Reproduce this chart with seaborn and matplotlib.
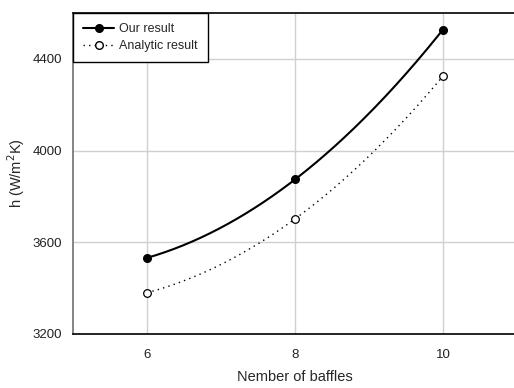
import numpy as np
import pandas as pd
import matplotlib
matplotlib.use("Agg")
import matplotlib.pyplot as plt
from matplotlib.lines import Line2D
import seaborn as sns

# Values
baffles = [6, 8, 10]
our_result = [3532, 3874, 4528]
analytic_result = [3380, 3702, 4325]

sns.set_style("white")
plt.rcParams['font.family'] = ['Liberation Sans', 'DejaVu Sans']

fig = plt.figure(figsize=(5.14, 3.88), dpi=100)
ax = fig.add_axes([73 / 514, 54 / 388, 444 / 514, 321 / 388])


# Smooth quadratic curve through the three points (like SigmaPlot's spline)
def smooth(x, y):
    coef = np.polyfit(x, y, 2)
    xs = np.linspace(min(x), max(x), 200)
    return pd.DataFrame({'x': xs, 'y': np.polyval(coef, xs)})


our_curve = smooth(baffles, our_result)
ana_curve = smooth(baffles, analytic_result)

ax.grid(True, color='#d0d0d0', linewidth=1)
ax.set_axisbelow(True)

sns.lineplot(data=our_curve, x='x', y='y', ax=ax, color='black', linewidth=1.5)
sns.lineplot(data=ana_curve, x='x', y='y', ax=ax, color='black', linewidth=1,
             linestyle=(0, (1, 3)))
ax.plot(baffles, our_result, 'o', color='black', markersize=5.5, zorder=5)
ax.plot(baffles, analytic_result, 'o', markerfacecolor='white', markeredgecolor='black',
        markeredgewidth=0.9, markersize=5.5, zorder=5)

ax.set_xlim(5, 11)
ax.set_ylim(3200, 4600)
ax.set_xticks([6, 8, 10])
ax.set_yticks([3200, 3600, 4000, 4400])
ax.tick_params(axis='both', direction='out', length=4, width=1, labelsize=9.5,
               colors='#222222')
ax.tick_params(axis='y', color='#707070', pad=4)
ax.tick_params(axis='x', color='black', pad=7)

ax.spines['left'].set_color('#707070')
ax.spines['left'].set_linewidth(1.2)
ax.spines['bottom'].set_color('black')
ax.spines['top'].set_color('black')
ax.spines['bottom'].set_linewidth(1.2)
ax.spines['top'].set_linewidth(1.2)
ax.spines['right'].set_visible(False)

ax.set_xlabel('Nember of baffles', fontsize=10.5, labelpad=6)
ax.set_ylabel('h (W/m$^2$K)', fontsize=10.5, labelpad=4)

handles = [
    Line2D([0], [0], color='black', linewidth=1.5, marker='o', markersize=5.5),
    Line2D([0], [0], color='black', linewidth=1, linestyle=(0, (1, 3)), marker='o',
           markerfacecolor='white', markeredgecolor='black', markersize=5.5),
]
leg = ax.legend(handles, ['Our result', 'Analytic result'], loc='upper left',
                fontsize=9, frameon=True, fancybox=False, borderaxespad=0,
                handlelength=2.5, handletextpad=0.4, borderpad=0.8, labelspacing=0.4)
leg.get_frame().set_edgecolor('black')
leg.get_frame().set_linewidth(1)
leg.get_frame().set_alpha(1)

fig.savefig('out.png', dpi=100)
